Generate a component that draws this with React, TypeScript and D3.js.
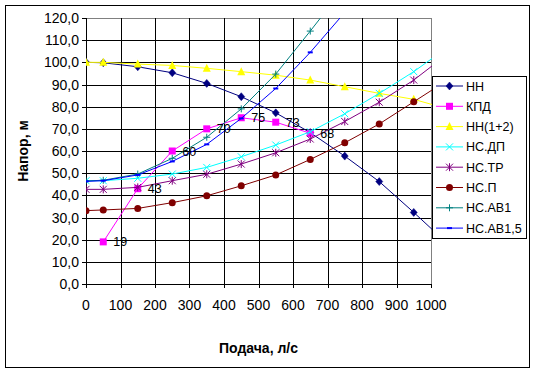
import React from "react";
import * as d3 from "d3";

// flow points (л/с); the last point lies past the axis end and is clipped
const flows = [0, 50, 150, 250, 350, 450, 550, 650, 750, 850, 950, 1050];
const flowsEff = [50, 150, 250, 350, 450, 550, 650];
const flowsAv = [0, 50, 150, 250, 350, 450, 550, 650, 750];

const headNN = [100, 99.8, 98, 95.3, 90.5, 84.5, 77.2, 68.3, 57.7, 46.2, 32.3, 17.9];
const efficiency = [19, 43, 60, 70, 75, 73, 68];
const headNN12 = [100, 100, 99.2, 98.6, 97.3, 95.8, 94.2, 92, 89, 86, 83.3, 78.9];
const headDP = [46.6, 46.6, 47.7, 49.6, 52.6, 57.4, 62.7, 68.7, 76.8, 86, 95.8, 107];
const headTR = [42.7, 42.7, 43.6, 46.6, 49.5, 54.1, 59.2, 65.4, 73.3, 82, 92, 104];
const headP = [33.1, 33.4, 34.1, 36.7, 39.8, 44.3, 49.2, 56.2, 63.7, 72.2, 82.2, 92.2];
const headAV1 = [46.5, 46.8, 49.6, 56.7, 66.2, 79, 94.7, 114.1, 134];
const headAV15 = [46.3, 46.6, 49.2, 55.3, 63, 74.7, 88.2, 104.5, 122.5];

const xTicks = [0, 100, 200, 300, 400, 500, 600, 700, 800, 900, 1000];
const yTicks = [0, 10, 20, 30, 40, 50, 60, 70, 80, 90, 100, 110, 120];

type Shape = "diamond" | "square" | "triangle" | "x" | "star" | "circle" | "plus" | "dash";

interface Series {
  name: string;
  xs: number[];
  ys: number[];
  color: string;
  shape: Shape;
  labels?: boolean;
}

const series: Series[] = [
  { name: "НН", xs: flows, ys: headNN, color: "#000080", shape: "diamond" },
  { name: "КПД", xs: flowsEff, ys: efficiency, color: "#FF00FF", shape: "square", labels: true },
  { name: "НН(1+2)", xs: flows, ys: headNN12, color: "#FFFF00", shape: "triangle" },
  { name: "НС.ДП", xs: flows, ys: headDP, color: "#00FFFF", shape: "x" },
  { name: "НС.ТР", xs: flows, ys: headTR, color: "#800080", shape: "star" },
  { name: "НС.П", xs: flows, ys: headP, color: "#800000", shape: "circle" },
  { name: "НС.АВ1", xs: flowsAv, ys: headAV1, color: "#008080", shape: "plus" },
  { name: "НС.АВ1,5", xs: flowsAv, ys: headAV15, color: "#0000FF", shape: "dash" },
];

const FONT = "'Liberation Sans', Arial, sans-serif";

const Marker = ({ x, y, shape, color }: { x: number; y: number; shape: Shape; color: string }) => {
  const s = 3.5;
  switch (shape) {
    case "diamond":
      return <path d={`M${x},${y - s - 0.5}L${x + s},${y}L${x},${y + s + 0.5}L${x - s},${y}Z`} fill={color} stroke={color} strokeWidth={0.5} />;
    case "square":
      return <rect x={x - s} y={y - s} width={2 * s} height={2 * s} fill={color} />;
    case "triangle":
      return <path d={`M${x},${y - s - 1}L${x + s + 0.5},${y + s}L${x - s - 0.5},${y + s}Z`} fill={color} />;
    case "x":
      return <path d={`M${x - s},${y - s}L${x + s},${y + s}M${x - s},${y + s}L${x + s},${y - s}`} stroke={color} strokeWidth={1} />;
    case "star":
      return (
        <path
          d={`M${x - s},${y - s}L${x + s},${y + s}M${x - s},${y + s}L${x + s},${y - s}M${x},${y - s - 0.5}L${x},${y + s + 0.5}`}
          stroke={color}
          strokeWidth={1}
        />
      );
    case "circle":
      return <circle cx={x} cy={y} r={s} fill={color} />;
    case "plus":
      return <path d={`M${x - s},${y}L${x + s},${y}M${x},${y - s}L${x},${y + s}`} stroke={color} strokeWidth={1} />;
    case "dash":
      return <rect x={x - 2.5} y={y - 1} width={5} height={2} fill={color} />;
  }
};

const App = () => {
  const width = 535;
  const height = 373;
  const left = 86;
  const right = 431;
  const top = 18;
  const bottom = 284;

  const x = d3.scaleLinear().domain([0, 1000]).range([left, right]);
  const y = d3.scaleLinear().domain([0, 120]).range([bottom, top]);
  const fmt = (v: number) => d3.format(".1f")(v).replace(".", ",");

  const line = d3
    .line<[number, number]>()
    .x((d) => x(d[0]))
    .y((d) => y(d[1]));

  const legendX = 432;
  const legendY = 76;
  const legendStep = 20.3;

  return (
    <svg width={width} height={height} style={{ position: "absolute", left: 0, top: 0 }} fontFamily={FONT}>
      <defs>
        <clipPath id="plot">
          <rect x={left} y={top} width={right - left + 1} height={bottom - top} />
        </clipPath>
      </defs>
      <rect x={0} y={0} width={width} height={height} fill="white" />
      <rect x={5.5} y={5.5} width={524} height={362} fill="white" stroke="black" />

      {/* grid */}
      {yTicks.map((t) => (
        <line key={"gy" + t} x1={left} x2={right} y1={Math.round(y(t)) + 0.5} y2={Math.round(y(t)) + 0.5} stroke={t === 120 ? "#808080" : "black"} />
      ))}
      {xTicks.map((t) => (
        <line key={"gx" + t} x1={Math.round(x(t)) + 0.5} x2={Math.round(x(t)) + 0.5} y1={top} y2={bottom} stroke={t === 1000 ? "#808080" : "black"} />
      ))}

      {/* axes */}
      <line x1={left + 0.5} x2={left + 0.5} y1={top} y2={bottom + 4} stroke="black" />
      <line x1={left - 4} x2={right + 1} y1={bottom + 0.5} y2={bottom + 0.5} stroke="black" />
      {yTicks.map((t) => (
        <g key={"ty" + t}>
          <line x1={left - 4} x2={left} y1={Math.round(y(t)) + 0.5} y2={Math.round(y(t)) + 0.5} stroke="black" />
          <text x={79} y={y(t)} dy="0.36em" textAnchor="end" fontSize={14}>
            {fmt(t)}
          </text>
        </g>
      ))}
      {xTicks.map((t) => (
        <g key={"tx" + t}>
          <line x1={Math.round(x(t)) + 0.5} x2={Math.round(x(t)) + 0.5} y1={bottom} y2={bottom + 4} stroke="black" />
          <text x={x(t)} y={310} textAnchor="middle" fontSize={14}>
            {t}
          </text>
        </g>
      ))}
      <text x={(left + right) / 2} y={353} textAnchor="middle" fontSize={14} fontWeight="bold">
        Подача, л/с
      </text>
      <text transform={`translate(28,${(top + bottom) / 2}) rotate(-90)`} textAnchor="middle" fontSize={14} fontWeight="bold">
        Напор, м
      </text>

      {/* series */}
      <g clipPath="url(#plot)">
        {series.map((s) => {
          const pts = s.xs.map((v, i) => [v, s.ys[i]] as [number, number]);
          return (
            <g key={s.name}>
              <path d={line(pts) ?? ""} fill="none" stroke={s.color} strokeWidth={1} />
              {pts.map((p, i) => (
                <Marker key={i} x={x(p[0])} y={y(p[1])} shape={s.shape} color={s.color} />
              ))}
            </g>
          );
        })}
      </g>
      {series
        .filter((s) => s.labels)
        .map((s) =>
          s.xs.map((v, i) => (
            <text key={s.name + i} x={x(v) + 10} y={y(s.ys[i])} dy="0.36em" fontSize={12.5}>
              {s.ys[i]}
            </text>
          ))
        )}

      {/* legend */}
      <rect x={legendX + 0.5} y={legendY + 0.5} width={94} height={162} fill="white" stroke="black" />
      {series.map((s, i) => {
        const cy = legendY + 10 + i * legendStep;
        return (
          <g key={"lg" + s.name}>
            <line x1={436} x2={463} y1={cy} y2={cy} stroke={s.color} strokeWidth={1} />
            <Marker x={449.5} y={cy} shape={s.shape} color={s.color} />
            <text x={466} y={cy} dy="0.36em" fontSize={12.5}>
              {s.name}
            </text>
          </g>
        );
      })}
    </svg>
  );
};

export default App;
